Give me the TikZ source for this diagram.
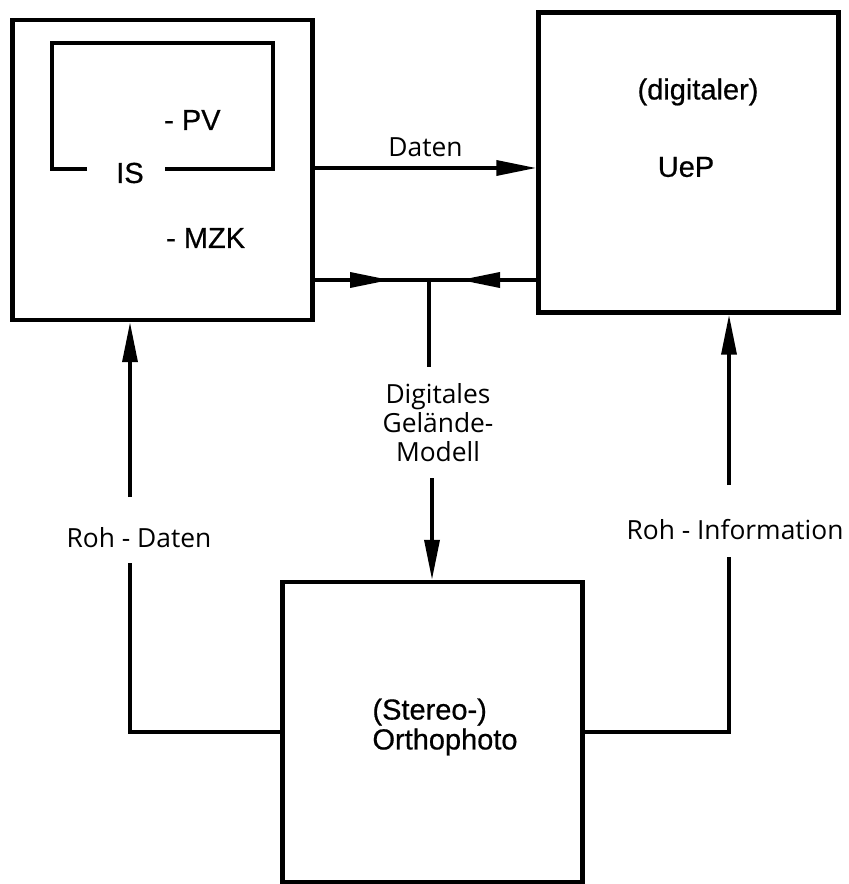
\documentclass[tikz,border=0pt]{standalone}
\usepackage{fontspec}
\setmainfont{Liberation Sans}[FakeBold=0.6]
\newfontfamily\lblfont{Open Sans}
\usetikzlibrary{arrows.meta}

\tikzset{
  box/.style={draw, line width=2.6pt, minimum width=6cm, minimum height=6cm, inner sep=0pt},
  conn/.style={line width=2pt},
  tip/.style={-{Triangle[length=0.8cm,width=0.3cm]}},
  lbl/.style={font=\lblfont\fontsize{15}{16.5}\selectfont, align=center},
  txt/.style={font=\fontsize{16.5}{17}\selectfont}
}

\begin{document}
\begin{tikzpicture}[x=0.02cm,y=-0.02cm]
\useasboundingbox (0,0) rectangle (848,884);

% the three blocks
\node[box] (IS) at (162.5,170) {};
\node[box] (UeP) at (688.5,162.5) {};
\node[box] (Ortho) at (432.5,732) {};

% inner frame of IS, open at the bottom
\draw[conn, line width=2.1pt] (87,169) -- (52,169) -- (52,43) -- (273,43) -- (273,169) -- (165,169);
\node[txt] (is) at (130,173) {IS};
\node[txt, anchor=west] (pv) at (158,120) {- PV};
\node[txt, anchor=west] (mzk) at (160,238) {- MZK};

\node[txt] (dig) at (698,92) {(digitaler)};
\node[txt] (uep) at (686,167) {UeP};

\node[txt, align=left] (ortho) at (445,727) {(Stereo-)\\Orthophoto};

% Daten
\draw[conn,tip] (IS.east |- 0,168) -- (UeP.west |- 0,168) node[lbl, midway, above=2pt] (daten) {Daten};

% DGM branch
\coordinate (j) at (429,280);
\coordinate (ml) at (390,280);
\coordinate (mr) at (460,280);
\draw[conn] (IS.east |- ml) -- (UeP.west |- mr);
\draw[conn,tip] (IS.east |- ml) -- (ml);
\draw[conn,tip] (UeP.west |- mr) -- (mr);
\node[lbl] (dgm) at (438,423) {Digitales\\Gelände-\\Modell};
\coordinate (dgmtop) at (429,367);
\coordinate (dgmbot) at (432,478);
\draw[conn] (j) -- (dgmtop);
\draw[conn,tip] (dgmbot) -- (dgmbot |- Ortho.north);

% Roh - Daten
\node[lbl] (rohd) at (139,538) {Roh - Daten};
\coordinate (rd1) at (130,497);
\coordinate (rd2) at (130,563);
\draw[conn,tip] (rd1) -- (rd1 |- IS.south);
\draw[conn] (rd2) |- (Ortho.west);

% Roh - Information
\node[lbl] (rohi) at (735,530) {Roh - Information};
\coordinate (ri1) at (729,485);
\coordinate (ri2) at (729,557);
\draw[conn,tip] (ri1) -- (ri1 |- UeP.south);
\draw[conn] (ri2) |- (Ortho.east);
\end{tikzpicture}
\end{document}
